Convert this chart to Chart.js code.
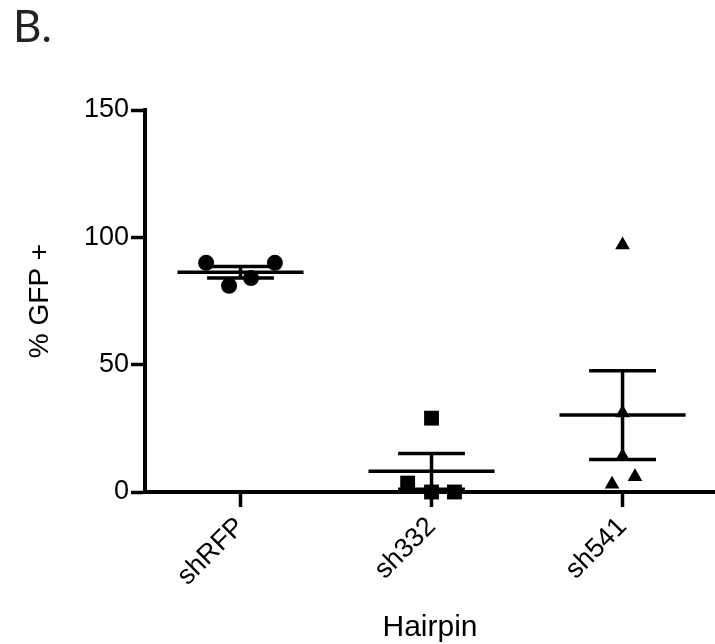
<!DOCTYPE html>
<html>
<head>
<meta charset="utf-8">
<script src="https://cdn.jsdelivr.net/npm/chart.js@4"></script>
<style>
  body { margin: 0; background: #fff; }
  #wrap { position: relative; width: 715px; height: 644px; }
  #panel { position: absolute; left: 13px; top: 3px; font: 44px/44px Lato, "Open Sans", sans-serif; color: #222; }
</style>
</head>
<body>
<div id="wrap">
  <canvas id="gfpChart" width="715" height="644"></canvas>
  <div id="panel">B.</div>
</div>
<script>
// categories and per-hairpin values (% GFP+)
const categories = ['shRFP', 'sh332', 'sh541'];
const shRFP = [90, 90, 81, 84];
const sh332 = [29, 3.5, 0, 0];
const sh541 = [97, 31, 14, 6, 3];
// horizontal scatter of the points around each category
const shRFPJitter = [-0.18, 0.18, -0.06, 0.055];
const sh332Jitter = [0, -0.125, 0, 0.12];
const sh541Jitter = [0, 0, 0, 0.065, -0.055];
const yTicks = [0, 50, 100, 150];

const groups = [shRFP, sh332, sh541];
const jitters = [shRFPJitter, sh332Jitter, sh541Jitter];
const pointStyles = ['circle', 'rect', 'triangle'];
const pointRadii = [8, 10.5, 8.5];

function mean(a){ return a.reduce((s, v) => s + v, 0) / a.length; }
function sem(a){
  const m = mean(a);
  const v = a.reduce((s, x) => s + (x - m) * (x - m), 0) / (a.length - 1);
  return Math.sqrt(v) / Math.sqrt(a.length);
}

// mean line + SEM whiskers, one line dataset with gaps
const barLines = [];
groups.forEach((g, i) => {
  const c = i + 1, m = mean(g), s = sem(g);
  barLines.push({x: c - 0.33, y: m}, {x: c + 0.33, y: m}, {x: c, y: null});
  barLines.push({x: c - 0.175, y: m + s}, {x: c + 0.175, y: m + s}, {x: c, y: null});
  barLines.push({x: c - 0.175, y: m - s}, {x: c + 0.175, y: m - s}, {x: c, y: null});
  barLines.push({x: c, y: m - s}, {x: c, y: m + s}, {x: c, y: null});
});

const datasets = groups.map((g, i) => ({
  label: categories[i],
  data: g.map((v, j) => ({x: i + 1 + jitters[i][j], y: v})),
  pointStyle: pointStyles[i],
  pointRadius: pointRadii[i],
  backgroundColor: '#000',
  borderColor: '#000',
  borderWidth: 0,
  clip: false
}));
datasets.push({
  type: 'line',
  label: 'mean ± SEM',
  data: barLines,
  showLine: true,
  spanGaps: false,
  borderColor: '#000',
  borderWidth: 3.5,
  borderCapStyle: 'butt',
  pointRadius: 0,
  clip: false
});

const FONT = '"Liberation Sans", Arial, sans-serif';

new Chart(document.getElementById('gfpChart'), {
  type: 'scatter',
  data: { datasets: datasets },
  options: {
    responsive: false,
    animation: false,
    layout: { autoPadding: false, padding: { top: 110, right: 0, left: 0, bottom: 0 } },
    plugins: { legend: { display: false }, tooltip: { enabled: false } },
    scales: {
      x: {
        type: 'linear',
        min: 0.5,
        max: 3.484,
        afterBuildTicks: function(scale){
          scale.ticks = categories.map((_, i) => ({ value: i + 1 }));
        },
        afterFit: function(scale){
          scale.height = 152;
          scale.paddingLeft = 0;
          scale.paddingRight = 0;
        },
        ticks: {
          color: '#000',
          font: { family: FONT, size: 27 },
          minRotation: 45,
          maxRotation: 45,
          padding: 4,
          callback: function(v){ return categories[v - 1]; }
        },
        grid: { drawOnChartArea: false, color: '#000', tickLength: 15, tickWidth: 3.5 },
        border: { color: '#000', width: 4 },
        title: {
          display: true,
          text: 'Hairpin',
          color: '#000',
          font: { family: FONT, size: 30 },
          padding: { top: 0, bottom: -2 }
        }
      },
      y: {
        min: 0,
        max: 150,
        afterBuildTicks: function(scale){
          scale.ticks = yTicks.map(v => ({ value: v }));
        },
        afterFit: function(scale){ scale.width = 145; },
        ticks: { color: '#000', font: { family: FONT, size: 27 }, padding: 2 },
        grid: { drawOnChartArea: false, color: '#000', tickLength: 14, tickWidth: 3.5 },
        border: { color: '#000', width: 4 },
        title: {
          display: true,
          text: '% GFP +',
          color: '#000',
          font: { family: FONT, size: 28 },
          padding: { top: 23, bottom: 0 }
        }
      }
    }
  }
});
</script>
</body>
</html>
